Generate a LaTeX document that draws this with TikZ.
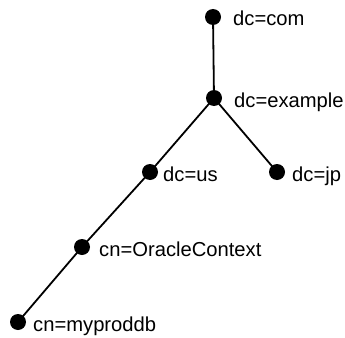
\documentclass[tikz,border=0pt]{standalone}
\usepackage{fontspec}
\setmainfont{Liberation Sans}
\begin{document}
\begin{tikzpicture}[x=1pt,y=-1pt,
  dot/.style={circle,fill=black,inner sep=0pt,minimum size=16pt},
  lbl/.style={anchor=base west,inner sep=0pt,font=\fontsize{20.2}{22}\selectfont},
  edge/.style={line width=1.8pt}]
\useasboundingbox (0,0) rectangle (345,337);
\node[dot] (com) at (213,17) {};
\node[dot] (ex) at (214,98) {};
\node[dot] (us) at (150,172) {};
\node[dot] (jp) at (277,172) {};
\node[dot] (oc) at (82,247) {};
\node[dot] (db) at (18,322) {};
\draw[edge] (com.center) -- (ex.center);
\draw[edge] (ex.center) -- (us.center);
\draw[edge] (ex.center) -- (jp.center);
\draw[edge] (us.center) -- (oc.center);
\draw[edge] (oc.center) -- (db.center);
\node[lbl] (lcom) at (233,26) {dc=com};
\node[lbl] (lex) at (234,107) {dc=example};
\node[lbl] (lus) at (163,181) {dc=us};
\node[lbl] (ljp) at (292,181) {dc=jp};
\node[lbl] (loc) at (99,256) {cn=OracleContext};
\node[lbl] (ldb) at (33,331) {cn=myproddb};
\end{tikzpicture}
\end{document}
